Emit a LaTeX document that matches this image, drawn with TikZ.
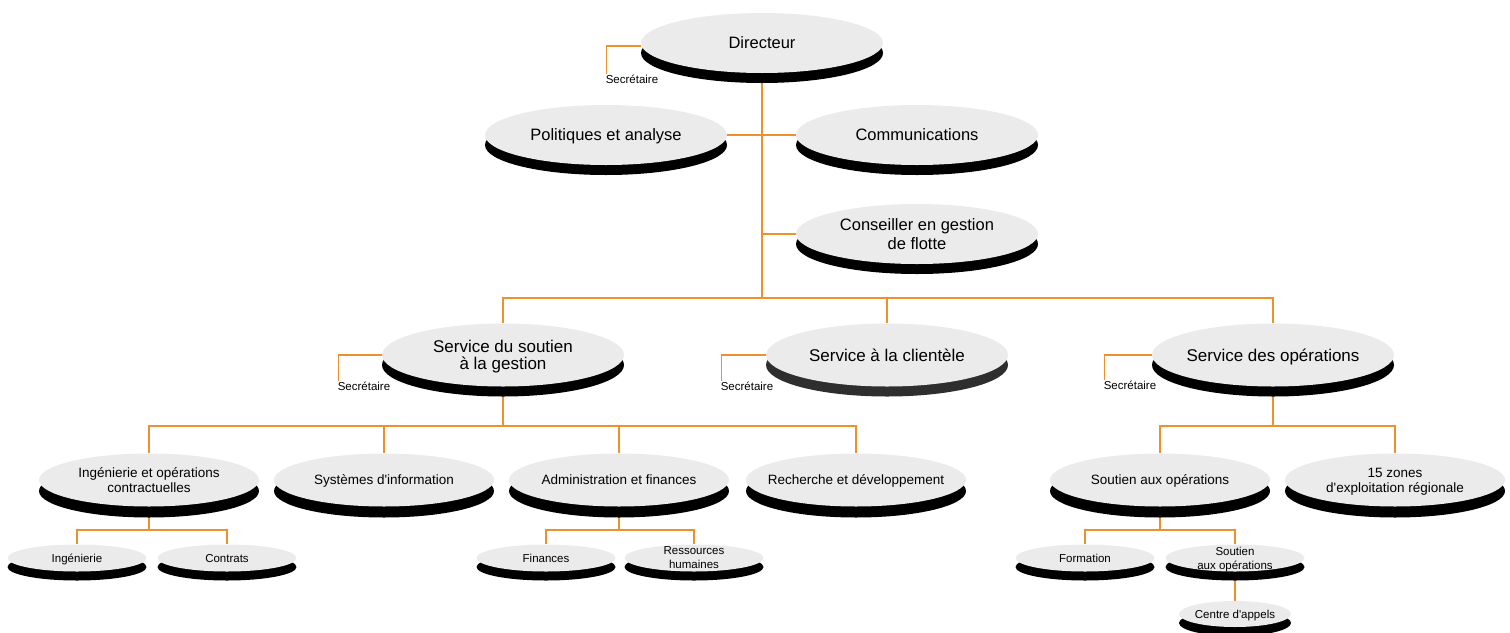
\documentclass[tikz,border=0pt]{standalone}
\usepackage{fontspec}
\setmainfont{Liberation Sans}
\usetikzlibrary{shapes.geometric,shadows,backgrounds}
\definecolor{orgline}{RGB}{236,145,45}
\definecolor{orgfill}{RGB}{235,235,235}

\begin{document}
\begin{tikzpicture}[x=1pt,y=-1pt,line join=bevel,
  unit/.style={ellipse,fill=orgfill,inner xsep=-15pt,inner ysep=-6pt,align=center,text depth=0pt},
  puck/.style 2 args={drop shadow={shadow xshift=0pt,shadow yshift=#1,fill=#2,opacity=1}},
  lvltop/.style={unit,minimum width=242pt,minimum height=60pt,font=\fontsize{16.5}{19}\selectfont,puck={-10pt}{black}},
  svcbody/.style={unit,minimum width=242pt,minimum height=63pt,font=\fontsize{17}{17}\selectfont},
  lvlsvc/.style={svcbody,puck={-10pt}{black}},
  lvlsub/.style={unit,minimum width=220pt,minimum height=53pt,font=\fontsize{13.5}{15}\selectfont,puck={-11pt}{black}},
  lvlleaf/.style={unit,minimum width=139pt,minimum height=27pt,font=\fontsize{11.5}{14}\selectfont,puck={-9pt}{black}},
  secr/.style={font=\fontsize{11.5}{13}\selectfont,inner sep=1pt},
  link/.style={draw=orgline,line width=1.2pt}]
\useasboundingbox (0,0) rectangle (1510,632);
%%
\node (dir) at (762,43) [lvltop] {Directeur};
  \node (pol) at (606,135) [lvltop] {Politiques et analyse};
  \node (com) at (917,135) [lvltop] {Communications};
  \node (cons) at (917,234) [lvltop] {Conseiller en gestion\\de flotte};
  \node (sgest) at (503,355) [lvlsvc] {Service du soutien\\à la gestion};
  \node (cli) at (887,355) [svcbody,puck={-10pt}{black!82}] {Service à la clientèle};
  \node (ops) at (1273,355) [lvlsvc] {Service des opérations};
  \node (ing) at (149,480) [lvlsub] {Ingénierie et opérations\\contractuelles};
  \node (si) at (384,480) [lvlsub] {Systèmes d\textquotesingle information};
  \node (adm) at (619,480) [lvlsub] {Administration et finances};
  \node (rd) at (856,480) [lvlsub] {Recherche et développement};
  \node (sao) at (1160,480) [lvlsub] {Soutien aux opérations};
  \node (zones) at (1395,480) [lvlsub] {15 zones\\d\textquotesingle exploitation régionale};
  \node (ingn) at (77,558) [lvlleaf] {Ingénierie};
  \node (ctr) at (227,558) [lvlleaf] {Contrats};
  \node (fin) at (546,558) [lvlleaf] {Finances};
  \node (rh) at (694,558) [lvlleaf] {Ressources\\humaines};
  \node (form) at (1085,558) [lvlleaf] {Formation};
  \node (sao2) at (1235,558) [lvlleaf] {Soutien\\aux opérations};
  \node (cda) at (1235,614) [lvlleaf,minimum width=112pt,minimum height=26pt] {Centre d\textquotesingle appels};
%
  \node (sec_dir) at (632,79) [secr] {Secrétaire};
  \node (sec_gest) at (364,386) [secr] {Secrétaire};
  \node (sec_cli) at (747,386) [secr] {Secrétaire};
  \node (sec_ops) at (1130,385) [secr] {Secrétaire};
%
  \coordinate (bus_svc) at (762,298);
  \coordinate (bus_gest) at (503,426);
  \coordinate (bus_ops) at (1273,426);
  \coordinate (bus_ing) at (149,530);
  \coordinate (bus_adm) at (619,530);
  \coordinate (bus_sao) at (1160,530);
\begin{scope}[on background layer]
  \draw [link] (dir.south) -- (bus_svc);
  \draw [link] (pol.east) -- (com.west);
  \draw [link] (cons.west) -- (cons.west -| dir.south);
  \draw [link] (sgest.north) |- (bus_svc) -| (ops.north);
  \draw [link] (cli.north) -- (cli.north |- bus_svc);
  \draw [link] (sgest.south) -- (bus_gest);
  \draw [link] (ing.north) |- (bus_gest) -| (rd.north);
  \draw [link] (si.north) -- (si.north |- bus_gest);
  \draw [link] (adm.north) -- (adm.north |- bus_gest);
  \draw [link] (ops.south) -- (bus_ops);
  \draw [link] (sao.north) |- (bus_ops) -| (zones.north);
  \draw [link] (ing.south) -- (bus_ing);
  \draw [link] (ingn.north) |- (bus_ing) -| (ctr.north);
  \draw [link] (adm.south) -- (bus_adm);
  \draw [link] (fin.north) |- (bus_adm) -| (rh.north);
  \draw [link] (sao.south) -- (bus_sao);
  \draw [link] (form.north) |- (bus_sao) -| (sao2.north);
  \draw [link] (sao2.south) -- (cda.north);
%
  \draw [link] ([yshift=-3pt]dir.west) -| ([xshift=2pt]sec_dir.north west);
  \draw [link] (sgest.west) -| ([xshift=2pt]sec_gest.north west);
  \draw [link] (cli.west) -| ([xshift=2pt]sec_cli.north west);
  \draw [link] (ops.west) -| ([xshift=2pt]sec_ops.north west);
\end{scope}
%
\end{tikzpicture}
\end{document}
